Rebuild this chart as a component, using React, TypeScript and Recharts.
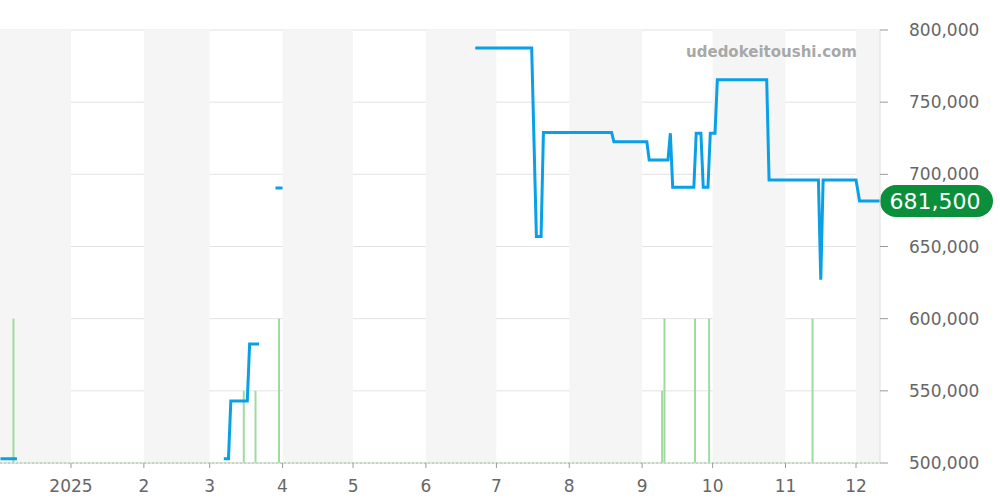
import {
  Bar,
  CartesianGrid,
  ComposedChart,
  Line,
  ReferenceArea,
  ReferenceLine,
  XAxis,
  YAxis,
} from "recharts";

// x values are days counted from 2024-12-01
const monthStarts = [0, 31, 62, 90, 121, 151, 182, 212, 243, 274, 304, 335, 365, 396];
const monthLabels = ["12", "2025", "2", "3", "4", "5", "6", "7", "8", "9", "10", "11", "12"];
const shadedMonths = [0, 2, 4, 6, 8, 10, 12];

const priceDays = [
  1, 8, 9,
  96, 98, 99, 106, 107, 111, 112,
  118, 121, 122,
  203, 227, 229, 231, 232, 261, 262, 276, 277, 285, 286, 287, 296, 297, 299,
  300, 302, 303, 305, 306, 327, 328, 349, 350, 351, 365, 366.5, 376,
];
const priceValues = [
  503000, 503000, null,
  503000, 503000, 543000, 543000, 582500, 582500, null,
  690500, 690500, null,
  787500, 787500, 657000, 657000, 729000, 729000, 722500, 722500, 710000, 710000,
  728500, 691000, 691000, 728500, 728500, 691000, 691000, 728500, 728500, 765500,
  765500, 696000, 696000, 627000, 696000, 696000, 681500, 681500,
];

const volumeDays = [6.5, 104.5, 109.5, 119.5, 282.5, 283.5, 296.5, 302.5, 346.5];
const volumeValues = [2, 1, 1, 2, 1, 2, 2, 2, 2];

const priceTicks = [500000, 550000, 600000, 650000, 700000, 750000, 800000];
const lastPrice = 681500;

const priceData = priceDays.map((day, i) => ({ day, price: priceValues[i] }));
const volumeData = volumeDays.map((day, i) => ({ day, vol: volumeValues[i] }));

const FONT = "'DejaVu Sans', sans-serif";
const fmt = (v: number) => v.toLocaleString("en-US");

// thin volume stick centred on its day
const VolumeStick = (props: any) => {
  const { x, y, width, height } = props;
  if (!height) return null;
  return <rect x={x + width / 2 - 1} y={y} width={2} height={height} fill="#9fdb9f" />;
};

const PriceBadge = (props: any) => {
  const { viewBox } = props;
  const x = viewBox.x + viewBox.width;
  const y = viewBox.y;
  return (
    <g>
      <rect x={x} y={y - 16} width={113} height={32} rx={16} ry={16} fill="#0b8f3b" />
      <text
        x={x + 55}
        y={y}
        dy="0.36em"
        textAnchor="middle"
        fill="#fff"
        fontSize={22}
        fontFamily={FONT}
      >
        {fmt(lastPrice)}
      </text>
    </g>
  );
};

export default function App() {
  return (
    <div style={{ position: "absolute", left: 0, top: 0, width: 1000, height: 500 }}>
      <ComposedChart
        width={1000}
        height={500}
        data={volumeData}
        margin={{ top: 30, right: 0, bottom: 0, left: 0 }}
      >
        {shadedMonths.map((m) => (
          <ReferenceArea
            key={m}
            x1={monthStarts[m]}
            x2={monthStarts[m + 1]}
            yAxisId="price"
            y1={500000}
            y2={800000}
            fill="#f5f5f5"
            fillOpacity={1}
            stroke="none"
            ifOverflow="hidden"
          />
        ))}
        <CartesianGrid vertical={false} stroke="#e2e2e2" yAxisId="price" />
        <XAxis
          dataKey="day"
          type="number"
          domain={[0.79, 375.2]}
          allowDataOverflow
          ticks={monthStarts.slice(1, 13)}
          tickFormatter={(v: number) => monthLabels[monthStarts.indexOf(v)]}
          height={37}
          tickSize={5}
          tickMargin={12}
          axisLine={{ stroke: "#d8d8d8" }}
          tickLine={{ stroke: "#999" }}
          tick={{ fill: "#666", fontSize: 17, fontFamily: FONT }}
        />
        <YAxis
          yAxisId="price"
          orientation="right"
          width={120}
          domain={[500000, 800000]}
          ticks={priceTicks}
          tickFormatter={fmt}
          tickSize={8}
          tickMargin={21}
          axisLine={{ stroke: "#ddd" }}
          tickLine={{ stroke: "#999" }}
          tick={{ fill: "#666", fontSize: 17, fontFamily: FONT, textAnchor: "start" }}
        />
        <YAxis yAxisId="vol" hide domain={[0, 6]} />
        <ReferenceLine
          yAxisId="vol"
          y={0}
          stroke="#a6dba6"
          strokeWidth={2}
          strokeDasharray="2 2"
        />
        <Bar
          yAxisId="vol"
          dataKey="vol"
          fill="#9fdb9f"
          shape={<VolumeStick />}
          isAnimationActive={false}
        />
        <Line
          yAxisId="price"
          data={priceData}
          dataKey="price"
          type="linear"
          stroke="#0aa0e6"
          strokeWidth={3}
          dot={false}
          activeDot={false}
          connectNulls={false}
          isAnimationActive={false}
        />
        <ReferenceLine
          yAxisId="price"
          y={lastPrice}
          stroke="none"
          label={<PriceBadge />}
        />
      </ComposedChart>
      <div
        style={{
          position: "absolute",
          right: 143,
          top: 43,
          fontFamily: FONT,
          fontWeight: "bold",
          fontSize: 15,
          color: "#a8a8a8",
        }}
      >
        udedokeitoushi.com
      </div>
    </div>
  );
}
